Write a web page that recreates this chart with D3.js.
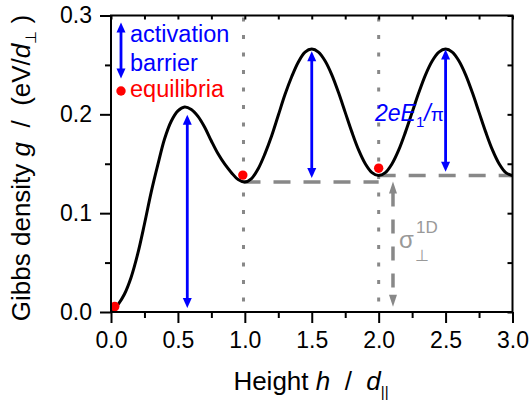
<!DOCTYPE html>
<html>
<head>
<meta charset="utf-8">
<title>Gibbs density vs height</title>
<script src="https://cdn.jsdelivr.net/npm/d3@7"></script>
<style>
  body { margin: 0; background: #fff; }
  text { font-family: "Liberation Sans", Arial, sans-serif; }
</style>
</head>
<body>
<script>
// curve (h in d_par, g in eV/d_perp)
var curveH = [0, 0.025, 0.05, 0.1, 0.15, 0.2, 0.25, 0.3, 0.35, 0.4, 0.45, 0.5, 0.55, 0.6, 0.65, 0.7, 0.75, 0.8, 0.85, 0.9, 0.95,
              1.0, 1.05, 1.1, 1.15, 1.2, 1.25, 1.3, 1.35, 1.4, 1.45, 1.5, 1.55, 1.6, 1.65, 1.7, 1.75, 1.8, 1.85, 1.9, 1.95,
              2.0, 2.05, 2.1, 2.15, 2.2, 2.25, 2.3, 2.35, 2.4, 2.45, 2.5, 2.55, 2.6, 2.65, 2.7, 2.75, 2.8, 2.85, 2.9, 2.95, 3.0];
var curveG = [0.000, 0.003, 0.007, 0.018, 0.035, 0.059, 0.089, 0.121, 0.149, 0.175, 0.193, 0.2035, 0.2075, 0.205, 0.198, 0.187, 0.173, 0.160, 0.1495, 0.141, 0.134,
              0.1315, 0.135, 0.145, 0.160, 0.178, 0.199, 0.220, 0.238, 0.253, 0.263, 0.266, 0.263, 0.254, 0.240, 0.222, 0.202, 0.182, 0.164, 0.150, 0.141,
              0.138, 0.141, 0.150, 0.164, 0.182, 0.202, 0.222, 0.240, 0.254, 0.263, 0.266, 0.263, 0.254, 0.240, 0.222, 0.202, 0.182, 0.164, 0.150, 0.141, 0.138];

// equilibria (red dots)
var dotH = [0.028, 0.985, 2.0];
var dotG = [0.0055, 0.1385, 0.1455];

// activation barriers (blue double arrows)
var barH  = [0.57, 1.5, 2.5];
var barLo = [0.004, 0.1355, 0.142];
var barHi = [0.1997, 0.2638, 0.2655];

// grey reference lines
var vDotH = [0.99, 2.0];
var hDashH0 = [0.99, 2.0];
var hDashH1 = [2.0, 3.0];
var hDashG  = [0.1315, 0.138];
var sigmaH = 2.107, sigmaLo = 0.0054, sigmaHi = 0.132;

var xTicks = [0, 0.5, 1.0, 1.5, 2.0, 2.5, 3.0];
var xMinor = [0.25, 0.75, 1.25, 1.75, 2.25, 2.75];
var yTicks = [0, 0.1, 0.2, 0.3];
var yMinor = [0.05, 0.15, 0.25];

var W = 530, H = 405;
var mL = 111, mR = 512.5, mT = 15.5, mB = 312;

var x = d3.scaleLinear().domain([0, 3]).range([mL, mR]);
var y = d3.scaleLinear().domain([0, 0.3]).range([mB, mT]);

var svg = d3.select("body").append("svg")
    .attr("width", W).attr("height", H);

var blue = "#0000ff", red = "#ff0000", grey = "#888888";

// double arrow helper
function dblArrow(xp, y1, y2, color, sw, hl, hw, dash) {
  var lo = Math.max(y1, y2), hi = Math.min(y1, y2);
  svg.append("line")
    .attr("x1", xp).attr("x2", xp)
    .attr("y1", hi + hl - 1).attr("y2", lo - hl + 1)
    .attr("stroke", color).attr("stroke-width", sw)
    .attr("stroke-dasharray", dash || null);
  svg.append("path")
    .attr("d", "M" + xp + "," + hi + "L" + (xp - hw / 2) + "," + (hi + hl) + "L" + (xp + hw / 2) + "," + (hi + hl) + "Z")
    .attr("fill", color);
  svg.append("path")
    .attr("d", "M" + xp + "," + lo + "L" + (xp - hw / 2) + "," + (lo - hl) + "L" + (xp + hw / 2) + "," + (lo - hl) + "Z")
    .attr("fill", color);
}

// dotted verticals
svg.selectAll(".vdot").data(vDotH).enter().append("line")
  .attr("class", "vdot")
  .attr("x1", function(d) { return x(d); }).attr("x2", function(d) { return x(d); })
  .attr("y1", mT + 2).attr("y2", mB)
  .attr("stroke", grey).attr("stroke-width", 3)
  .attr("stroke-dasharray", "4 13.5");

// dashed horizontals
svg.selectAll(".hdash").data(hDashG).enter().append("line")
  .attr("class", "hdash")
  .attr("x1", function(d, i) { return x(hDashH0[i]); })
  .attr("x2", function(d, i) { return x(hDashH1[i]); })
  .attr("y1", function(d) { return y(d); }).attr("y2", function(d) { return y(d); })
  .attr("stroke", grey).attr("stroke-width", 3.5)
  .attr("stroke-dasharray", "17 13");

// sigma arrow
dblArrow(x(sigmaH), y(sigmaHi), y(sigmaLo), grey, 3.5, 12, 8, "14 13");

// curve
var pts = curveH.map(function(h, i) { return [h, curveG[i]]; });
svg.append("path")
  .datum(pts)
  .attr("fill", "none")
  .attr("stroke", "#000")
  .attr("stroke-width", 3)
  .attr("d", d3.line()
    .x(function(d) { return x(d[0]); })
    .y(function(d) { return y(d[1]); })
    .curve(d3.curveCatmullRom));

// barriers
barH.forEach(function(h, i) {
  dblArrow(x(h), y(barHi[i]), y(barLo[i]), blue, 2.8, 10, 9);
});

// equilibria
svg.selectAll(".eq").data(dotH).enter().append("circle")
  .attr("cx", function(d) { return x(d); })
  .attr("cy", function(d, i) { return y(dotG[i]); })
  .attr("r", 4.7).attr("fill", red);

// frame
svg.append("rect")
  .attr("x", mL).attr("y", mT)
  .attr("width", mR - mL).attr("height", mB - mT)
  .attr("fill", "none").attr("stroke", "#000").attr("stroke-width", 2);

// bottom axis
svg.append("g").attr("transform", "translate(0," + mB + ")")
  .call(d3.axisBottom(x).tickValues(xTicks).tickSize(11).tickPadding(9)
        .tickFormat(d3.format(".1f")));
svg.append("g").attr("transform", "translate(0," + mB + ")")
  .call(d3.axisBottom(x).tickValues(xMinor).tickSize(6).tickFormat(""));
// left axis
svg.append("g").attr("transform", "translate(" + mL + ",0)")
  .call(d3.axisLeft(y).tickValues(yTicks).tickSize(11).tickPadding(8)
        .tickFormat(d3.format(".1f")));
svg.append("g").attr("transform", "translate(" + mL + ",0)")
  .call(d3.axisLeft(y).tickValues(yMinor).tickSize(6).tickFormat(""));
// mirrored ticks (inward) on top and right
svg.append("g").attr("transform", "translate(0," + mT + ")")
  .call(d3.axisBottom(x).tickValues(xTicks.concat(xMinor)).tickSize(4).tickFormat(""));
svg.append("g").attr("transform", "translate(" + mR + ",0)")
  .call(d3.axisLeft(y).tickValues(yTicks.concat(yMinor)).tickSize(5).tickFormat(""));

svg.selectAll(".domain").remove();
svg.selectAll(".tick line").attr("stroke", "#000").attr("stroke-width", 2);
svg.selectAll(".tick text")
  .attr("fill", "#000")
  .style("font-size", "23px")
  .style("font-family", "'Liberation Sans', Arial, sans-serif");

// axis titles
var yt = svg.append("text")
  .attr("transform", "translate(30,168) rotate(-90)")
  .attr("text-anchor", "middle")
  .style("font-size", "26px")
  .style("white-space", "pre");
yt.append("tspan").text("Gibbs density ");
yt.append("tspan").style("font-style", "italic").text("g");
yt.append("tspan").text("  /  (eV/");
yt.append("tspan").style("font-style", "italic").text("d");
yt.append("tspan").attr("dy", 6).style("font-size", "15px").text("\u22a5");
yt.append("tspan").attr("dy", -6).text(" )");

var xt = svg.append("text")
  .attr("x", 311).attr("y", 390)
  .attr("text-anchor", "middle")
  .style("font-size", "26px")
  .style("white-space", "pre");
xt.append("tspan").text("Height ");
xt.append("tspan").style("font-style", "italic").text("h");
xt.append("tspan").text("  /  ");
xt.append("tspan").style("font-style", "italic").text("d");
xt.append("tspan").attr("dy", 7).style("font-size", "15px").text("||");

// legend
dblArrow(121, 22.5, 78.5, blue, 2.8, 10, 9);
svg.append("text").attr("x", 130).attr("y", 41.5).attr("fill", blue)
  .style("font-size", "23.5px").text("activation");
svg.append("text").attr("x", 130).attr("y", 70.5).attr("fill", blue)
  .style("font-size", "23.5px").text("barrier");
svg.append("circle").attr("cx", 121).attr("cy", 91).attr("r", 4.7).attr("fill", red);
svg.append("text").attr("x", 130).attr("y", 97).attr("fill", red)
  .style("font-size", "23.5px").text("equilibria");

// 2eE1/pi label
var lab = svg.append("text").attr("x", 375).attr("y", 121).attr("fill", blue)
  .style("font-size", "23px");
lab.append("tspan").style("font-style", "italic").text("2eE");
lab.append("tspan").attr("dy", 6).style("font-size", "15px").text("1");
lab.append("tspan").attr("dy", -6).style("font-style", "italic").text("/");
lab.append("tspan").style("font-size", "19px").text("\u03c0");

// sigma label
var sg = svg.append("text").attr("x", 399).attr("y", 248).attr("fill", "#999")
  .style("font-size", "24px");
sg.append("tspan").text("\u03c3");
sg.append("tspan").attr("x", 415).attr("y", 261).style("font-size", "16px").text("\u22a5");
sg.append("tspan").attr("x", 416).attr("y", 233).style("font-size", "17px").text("1D");
</script>
</body>
</html>
